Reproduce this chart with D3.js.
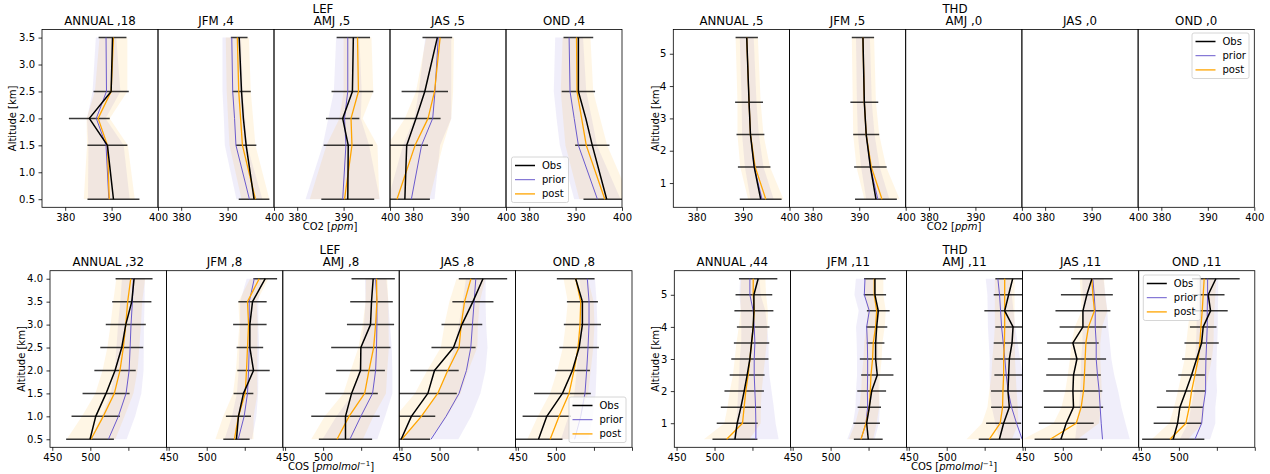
<!DOCTYPE html>
<html lang="en">
<head>
<meta charset="UTF-8">
<title>LEF / THD CO2 and COS profiles</title>
<style>
  body { margin: 0; background: #fff; }
  svg { display: block; font-family: "DejaVu Sans", sans-serif; }
</style>
</head>
<body>
<svg id="chart" width="1270" height="474"></svg>
<script src="https://d3js.org/d3.v7.min.js"></script>
<script>
// ---------- data ----------
const seasons = ['ANNUAL', 'JFM', 'AMJ', 'JAS', 'OND'];

// LEF CO2 [ppm], levels in km
const lefCo2Levels = [0.5, 1.5, 2.0, 2.5, 3.5];
const lefCo2Counts = [18, 4, 5, 5, 4];
const lefCo2Obs = [
  [390.4, 389.1, 385.2, 389.9, 390.2],
  [395.7, 394.0, 393.4, 393.0, 392.5],
  [390.9, 391.0, 389.8, 391.9, 392.1],
  [378.2, 378.6, 380.6, 382.5, 385.2],
  [396.7, 393.6, 392.2, 390.6, 390.6]
];
const lefCo2Err = [
  [5.6, 4.3, 4.4, 3.8, 3.0],
  [3.3, 2.2, null, 2.0, 1.8],
  [5.7, 5.3, 3.6, 4.5, 3.6],
  [5.4, 4.6, 5.3, 5.0, 3.2],
  [5.0, 3.7, null, 3.6, 3.2]
];
const lefCo2Prior = [
  [389.4, 388.8, 386.7, 388.9, 388.8],
  [394.7, 391.8, 391.5, 391.1, 390.9],
  [389.8, 390.5, 390.2, 390.9, 390.9],
  [379.6, 381.8, 384.2, 384.7, 385.4],
  [394.7, 390.6, 389.7, 388.8, 388.6]
];
const lefCo2PriorSd = [
  [4.5, 3.8, 2.0, 3.0, 2.2],
  [2.8, 2.4, 2.3, 2.2, 2.0],
  [8.0, 5.0, 3.5, 3.0, 2.5],
  [5.0, 4.0, 4.0, 3.5, 2.8],
  [5.0, 4.0, 3.8, 3.5, 3.0]
];
const lefCo2Post = [
  [389.5, 389.1, 387.1, 389.9, 390.4],
  [396.0, 393.2, 392.8, 392.4, 392.1],
  [390.2, 391.8, 391.6, 393.2, 393.0],
  [376.5, 380.4, 383.2, 384.6, 385.8],
  [396.3, 392.3, 391.3, 390.3, 390.2]
];
const lefCo2PostSd = [
  [5.5, 4.4, 2.5, 3.5, 3.0],
  [3.0, 2.8, 2.7, 2.6, 2.5],
  [7.5, 5.5, 2.5, 3.2, 3.0],
  [7.0, 6.0, 5.0, 4.0, 3.0],
  [5.5, 4.5, 4.0, 3.5, 3.0]
];

// THD CO2 [ppm]
const thdCo2Levels = [0.5, 1.5, 2.5, 3.5, 5.5];
const thdCo2Counts = [5, 5, 0, 0, 0];
const thdCo2Obs = [
  [393.8, 392.4, 391.6, 391.3, 390.8],
  [393.6, 392.4, 391.5, 391.1, 390.8],
  [], [], []
];
const thdCo2Err = [
  [4.5, 3.5, 3.0, 3.0, 2.4],
  [4.5, 3.5, 2.8, 3.0, 2.4],
  [], [], []
];
const thdCo2Prior = [
  [394.1, 392.4, 391.6, 391.3, 390.8],
  [394.0, 392.4, 391.5, 391.1, 390.8],
  [], [], []
];
const thdCo2PriorSd = [
  [2.5, 2.0, 1.8, 1.6, 1.5],
  [2.5, 2.0, 1.8, 1.6, 1.5],
  [], [], []
];
const thdCo2Post = [
  [394.9, 392.6, 391.6, 391.3, 390.8],
  [394.9, 392.6, 391.5, 391.1, 390.8],
  [], [], []
];
const thdCo2PostSd = [
  [3.8, 3.2, 2.8, 2.5, 2.4],
  [3.8, 3.2, 2.8, 2.5, 2.4],
  [], [], []
];

// LEF COS [pmol/mol]
const lefCosLevels = [0.5, 1.0, 1.5, 2.0, 2.5, 3.0, 3.5, 4.0];
const lefCosCounts = [32, 8, 8, 8, 8];
const lefCosObs = [
  [499.6, 507.1, 520.7, 532.5, 541.3, 546.6, 554.5, 557.5],
  [539.1, 541.7, 548.3, 561.5, 556.7, 556.7, 560.2, 576.9],
  [529.4, 529.4, 537.4, 549.2, 549.6, 562.3, 563.6, 565.8],
  [449.6, 463.0, 484.7, 493.4, 518.4, 529.4, 543.9, 557.1],
  [477.1, 488.0, 508.6, 521.7, 530.5, 534.8, 534.8, 526.0]
];
const lefCosErr = [
  [31.4, 31.8, 30.9, 27.2, 28.2, 26.3, 25.8, 24.3],
  [17.3, 16.5, 13.0, 21.3, 17.5, 22.0, 18.6, 15.6],
  [35.0, 45.0, 34.5, 32.0, 39.0, 31.0, 28.0, 28.5],
  [38.0, 31.4, 38.0, 31.8, 29.0, 26.8, 27.0, 31.8],
  [31.5, 31.8, 37.3, 23.0, 26.0, 24.4, 20.4, 24.8]
];
const lefCosPrior = [
  [523.8, 536.9, 547.0, 551.0, 552.3, 553.5, 555.3, 556.6],
  [541.4, 549.2, 553.6, 555.0, 555.9, 555.9, 555.9, 562.5],
  [535.2, 549.6, 565.0, 569.0, 570.2, 570.7, 570.7, 569.0],
  [488.8, 508.6, 525.7, 535.4, 541.1, 543.3, 545.5, 547.7],
  [524.6, 532.6, 538.2, 540.4, 542.2, 543.5, 543.5, 541.3]
];
const lefCosPriorSd = [
  [24, 22, 20, 19, 18, 17, 16, 15],
  [18, 16, 14, 13, 13, 12, 12, 10],
  [36, 32, 26, 22, 20, 17, 15, 14],
  [36, 33, 28, 25, 22, 18, 15, 13],
  [18, 16, 14, 13, 12, 11, 10, 10]
];
const lefCosPost = [
  [500.9, 517.0, 531.6, 539.0, 543.4, 546.6, 549.1, 553.1],
  [536.4, 541.7, 550.6, 552.3, 553.6, 555.0, 553.6, 569.0],
  [518.3, 534.1, 554.6, 560.3, 566.4, 569.0, 570.7, 570.2],
  [450.5, 476.1, 497.6, 510.8, 525.7, 528.5, 532.9, 541.3],
  [492.4, 504.2, 517.3, 523.8, 529.1, 531.7, 532.6, 526.0]
];
const lefCosPostSd = [
  [32, 28, 25, 23, 21, 20, 19, 19],
  [25, 20, 16, 14, 13, 12, 12, 12],
  [34, 32, 28, 24, 20, 17, 15, 14],
  [36, 34, 30, 27, 24, 22, 20, 19],
  [30, 28, 25, 22, 20, 19, 17, 16]
];

// THD COS [pmol/mol]
const thdCosLevels = [0.5, 1.0, 1.5, 2.0, 2.5, 3.0, 3.5, 4.0, 4.5, 5.0, 5.5];
const thdCosCounts = [44, 11, 11, 11, 11];
const thdCosObs = [
  [526.9, 529.9, 534.8, 539.1, 543.0, 546.6, 548.8, 551.0, 551.9, 551.9, 557.5],
  [549.6, 547.5, 551.0, 554.1, 561.5, 559.3, 559.3, 560.7, 562.8, 558.4, 558.4],
  [569.4, 575.0, 582.5, 580.7, 581.6, 582.5, 586.1, 587.4, 576.4, 581.6, 586.9],
  [497.5, 504.5, 514.1, 513.3, 514.1, 518.6, 513.3, 526.5, 526.5, 531.7, 538.3],
  [492.5, 498.3, 501.3, 509.2, 516.7, 523.3, 529.9, 532.0, 541.7, 538.6, 548.7]
];
const thdCosErr = [
  [29.6, 27.0, 26.5, 26.0, 23.0, 24.5, 23.3, 21.5, 25.7, 24.2, 25.3],
  [19.0, 17.5, 15.4, 19.0, 21.3, 20.8, 11.6, 14.0, 15.0, 14.7, 14.3],
  [27.2, 23.1, 24.1, 22.3, 18.8, 19.7, 24.2, 23.3, 26.8, 19.7, 22.8],
  [34.7, 36.2, 39.0, 38.8, 36.0, 38.4, 34.0, 30.7, 36.2, 34.2, 27.4],
  [41.0, 31.6, 30.4, 26.1, 17.6, 19.1, 22.6, 17.5, 22.6, 21.5, 31.4]
];
const thdCosPrior = [
  [554.5, 554.5, 554.1, 553.2, 552.3, 552.3, 553.2, 552.3, 551.0, 546.6, 546.6],
  [540.0, 546.6, 548.8, 548.4, 548.8, 548.8, 548.4, 547.5, 551.0, 544.4, 545.3],
  [599.4, 592.0, 585.4, 581.0, 578.4, 576.6, 574.5, 572.3, 571.0, 569.6, 567.4],
  [552.3, 550.6, 549.2, 547.9, 545.7, 544.0, 544.0, 542.7, 542.7, 541.3, 539.6],
  [521.1, 530.0, 532.0, 535.2, 535.2, 535.6, 536.5, 537.3, 537.3, 537.8, 537.8]
];
const thdCosPriorSd = [
  [30, 26, 24, 22, 20, 19, 18, 17, 16, 14, 13],
  [18, 17, 16, 15, 14, 14, 14, 14, 14, 13, 12],
  [30, 28, 26, 24, 22, 20, 19, 18, 17, 16, 16],
  [36, 32, 28, 25, 22, 20, 18, 17, 16, 15, 14],
  [20, 18, 16, 15, 14, 14, 14, 14, 14, 14, 14]
];
const thdCosPost = [
  [516.0, 536.9, 539.0, 541.2, 544.3, 546.6, 548.8, 551.0, 552.3, 551.0, 551.0],
  [540.0, 546.6, 551.0, 552.3, 553.2, 555.3, 556.2, 559.3, 560.7, 557.5, 557.5],
  [556.0, 570.5, 573.6, 574.1, 575.0, 575.0, 576.0, 576.4, 576.4, 576.4, 576.4],
  [483.4, 517.7, 524.2, 527.2, 528.5, 529.4, 530.4, 533.8, 541.7, 539.6, 538.3],
  [488.2, 509.2, 513.6, 516.7, 521.1, 525.5, 527.7, 529.0, 530.7, 532.0, 533.3]
];
const thdCosPostSd = [
  [30, 24, 22, 21, 20, 20, 20, 19, 18, 17, 16],
  [16, 14, 13, 12, 12, 12, 12, 12, 12, 12, 12],
  [30, 24, 20, 18, 16, 15, 14, 13, 13, 13, 13],
  [36, 30, 26, 24, 22, 20, 19, 18, 17, 16, 16],
  [24, 22, 20, 18, 18, 18, 18, 17, 16, 16, 16]
];

const legendNames = ['Obs', 'prior', 'post'];

// ---------- layout ----------
const svg = d3.select('#chart');
const COLORS = {obs: '#000', prior: 'slateblue', post: 'orange'};
const WIDTHS = {obs: 1.5, prior: 1, post: 1.3};
const TICK_FS = 10, TITLE_FS = 11.8;

const groups = [
  {key: 'lefco2', site: 'LEF', gas: 'co2', left: 42, width: 116, top: 29.5, bottom: 207.3,
   yDomain: [0.35, 3.65], yTicks: d3.range(0.5, 3.51, 0.5), yFmt: d3.format('.1f'),
   xDomain: [375, 400], xTicks: [380, 390, 400], xLabels: [380, 390, 400],
   levels: lefCo2Levels, counts: lefCo2Counts, obs: lefCo2Obs, err: lefCo2Err,
   prior: lefCo2Prior, priorSd: lefCo2PriorSd, post: lefCo2Post, postSd: lefCo2PostSd,
   siteX: 323, ylabelX: 12.5, xlabelX: 330, legend: {x: 511.5, y: 157}},
  {key: 'thdco2', site: 'THD', gas: 'co2', left: 673.3, width: 116.2, top: 29.5, bottom: 207.3,
   yDomain: [0.25, 5.75], yTicks: [1, 2, 3, 4, 5], yFmt: d3.format('d'),
   xDomain: [375, 400], xTicks: [380, 390, 400], xLabels: [380, 390, 400],
   levels: thdCo2Levels, counts: thdCo2Counts, obs: thdCo2Obs, err: thdCo2Err,
   prior: thdCo2Prior, priorSd: thdCo2PriorSd, post: thdCo2Post, postSd: thdCo2PostSd,
   siteX: 955, ylabelX: 655, xlabelX: 954, legend: {x: 1192, y: 33}},
  {key: 'lefcos', site: 'LEF', gas: 'cos', left: 50, width: 116.4, top: 270.7, bottom: 447.3,
   yDomain: [0.325, 4.175], yTicks: d3.range(0.5, 4.01, 0.5), yFmt: d3.format('.1f'),
   xDomain: [447, 600], xTicks: [450, 500, 550, 600], xLabels: [450, 500],
   levels: lefCosLevels, counts: lefCosCounts, obs: lefCosObs, err: lefCosErr,
   prior: lefCosPrior, priorSd: lefCosPriorSd, post: lefCosPost, postSd: lefCosPostSd,
   siteX: 330, ylabelX: 21.7, xlabelX: 331, legend: {x: 569, y: 397}},
  {key: 'thdcos', site: 'THD', gas: 'cos', left: 674.3, width: 116.1, top: 270.7, bottom: 447.3,
   yDomain: [0.25, 5.75], yTicks: [1, 2, 3, 4, 5], yFmt: d3.format('d'),
   xDomain: [447, 600], xTicks: [450, 500, 550, 600], xLabels: [450, 500],
   levels: thdCosLevels, counts: thdCosCounts, obs: thdCosObs, err: thdCosErr,
   prior: thdCosPrior, priorSd: thdCosPriorSd, post: thdCosPost, postSd: thdCosPostSd,
   siteX: 955, ylabelX: 655, xlabelX: 954, legend: {x: 1143.3, y: 275}}
];

groups.forEach(drawGroup);

function drawGroup(grp) {
  const root = svg.append('g').attr('class', grp.key);
  const y = d3.scaleLinear().domain(grp.yDomain).range([grp.bottom, grp.top]);

  grp.counts.forEach((count, p) => {
    const x0 = grp.left + p * grp.width;
    const x = d3.scaleLinear().domain(grp.xDomain).range([x0, x0 + grp.width]);
    const clipId = `clip-${grp.key}-${p}`;
    root.append('clipPath').attr('id', clipId).append('rect')
      .attr('x', x0).attr('y', grp.top)
      .attr('width', grp.width).attr('height', grp.bottom - grp.top);
    const plot = root.append('g').attr('clip-path', `url(#${clipId})`);

    const obs = grp.obs[p];
    if (obs.length) {
      const rows = grp.levels.map((lev, i) => ({
        lev, obs: obs[i], err: grp.err[p][i],
        prior: grp.prior[p][i], priorSd: grp.priorSd[p][i],
        post: grp.post[p][i], postSd: grp.postSd[p][i]
      }));
      const band = (k, s) => d3.area()
        .y(d => y(d.lev))
        .x0(d => x(d[k] - d[s]))
        .x1(d => x(d[k] + d[s]));
      plot.append('path').datum(rows).attr('d', band('prior', 'priorSd'))
        .attr('fill', COLORS.prior).attr('fill-opacity', 0.1);
      plot.append('path').datum(rows).attr('d', band('post', 'postSd'))
        .attr('fill', COLORS.post).attr('fill-opacity', 0.1);

      // obs error bars
      plot.selectAll('line.err')
        .data(rows.filter(d => d.err != null))
        .join('line').attr('class', 'err')
        .attr('x1', d => x(d.obs - d.err)).attr('x2', d => x(d.obs + d.err))
        .attr('y1', d => y(d.lev)).attr('y2', d => y(d.lev))
        .attr('stroke', '#000').attr('stroke-opacity', 0.78).attr('stroke-width', 1.5);

      ['prior', 'post', 'obs'].forEach(k => {
        plot.append('path').datum(rows)
          .attr('d', d3.line().x(d => x(d[k])).y(d => y(d.lev)))
          .attr('fill', 'none').attr('stroke', COLORS[k])
          .attr('stroke-width', WIDTHS[k]).attr('stroke-linejoin', 'round');
      });
    }

    // x axis
    const xAxis = d3.axisBottom(x).tickValues(grp.xTicks)
      .tickSize(3.5).tickPadding(3.5)
      .tickFormat(d => grp.xLabels.includes(d) ? d : '');
    root.append('g').attr('transform', `translate(0,${grp.bottom})`)
      .call(xAxis)
      .call(g => g.select('.domain').remove())
      .call(styleAxis);

    if (p === 0) {
      const yAxis = d3.axisLeft(y).tickValues(grp.yTicks).tickFormat(grp.yFmt)
        .tickSize(3.5).tickPadding(3.5);
      root.append('g').attr('transform', `translate(${x0},0)`)
        .call(yAxis)
        .call(g => g.select('.domain').remove())
        .call(styleAxis);
    }

    // spines
    root.append('rect')
      .attr('x', x0).attr('y', grp.top)
      .attr('width', grp.width).attr('height', grp.bottom - grp.top)
      .attr('fill', 'none').attr('stroke', '#000').attr('stroke-width', 0.8);

    // panel title
    root.append('text')
      .attr('x', x0 + grp.width / 2).attr('y', grp.top - 4.5)
      .attr('text-anchor', 'middle').attr('font-size', TITLE_FS)
      .text(`${seasons[p]} ,${count}`);
  });

  // site title (sits just above the middle panel title)
  root.append('text')
    .attr('x', grp.siteX).attr('y', grp.top - 16.5)
    .attr('text-anchor', 'middle').attr('font-size', TITLE_FS)
    .text(grp.site);

  // y label
  root.append('text')
    .attr('transform', `translate(${grp.ylabelX},${(grp.top + grp.bottom) / 2}) rotate(-90)`)
    .attr('dy', '0.35em').attr('text-anchor', 'middle').attr('font-size', TICK_FS)
    .text('Altitude [km]');

  // x label
  const xl = root.append('text')
    .attr('x', grp.xlabelX).attr('y', grp.bottom + 23)
    .attr('text-anchor', 'middle').attr('font-size', TICK_FS);
  if (grp.gas === 'co2') {
    xl.append('tspan').text('CO2 [');
    xl.append('tspan').attr('font-style', 'italic').text('ppm');
    xl.append('tspan').text(']');
  } else {
    xl.append('tspan').text('COS [');
    xl.append('tspan').attr('font-style', 'italic').text('pmolmol');
    xl.append('tspan').attr('dy', -4).attr('font-size', 7).text('\u22121');
    xl.append('tspan').attr('dy', 4).text(']');
  }

  drawLegend(root, grp.legend);
}

function styleAxis(g) {
  g.attr('font-family', null).attr('font-size', null);
  g.selectAll('line').attr('stroke', '#000').attr('stroke-width', 0.8);
  g.selectAll('text').attr('fill', '#000').attr('font-size', TICK_FS);
}

function drawLegend(root, pos) {
  const lg = root.append('g').attr('transform', `translate(${pos.x},${pos.y})`);
  lg.append('rect').attr('width', 57).attr('height', 45.5).attr('rx', 2)
    .attr('fill', '#fff').attr('fill-opacity', 0.8)
    .attr('stroke', '#ccc').attr('stroke-width', 0.8);
  const keys = ['obs', 'prior', 'post'];
  keys.forEach((k, i) => {
    const cy = 8.5 + i * 14.2;
    lg.append('line').attr('x1', 3.5).attr('x2', 23.5).attr('y1', cy).attr('y2', cy)
      .attr('stroke', COLORS[k]).attr('stroke-width', WIDTHS[k]);
    lg.append('text').attr('x', 30.5).attr('y', cy).attr('dy', '0.35em')
      .attr('font-size', TICK_FS).text(legendNames[i]);
  });
}
</script>
</body>
</html>
